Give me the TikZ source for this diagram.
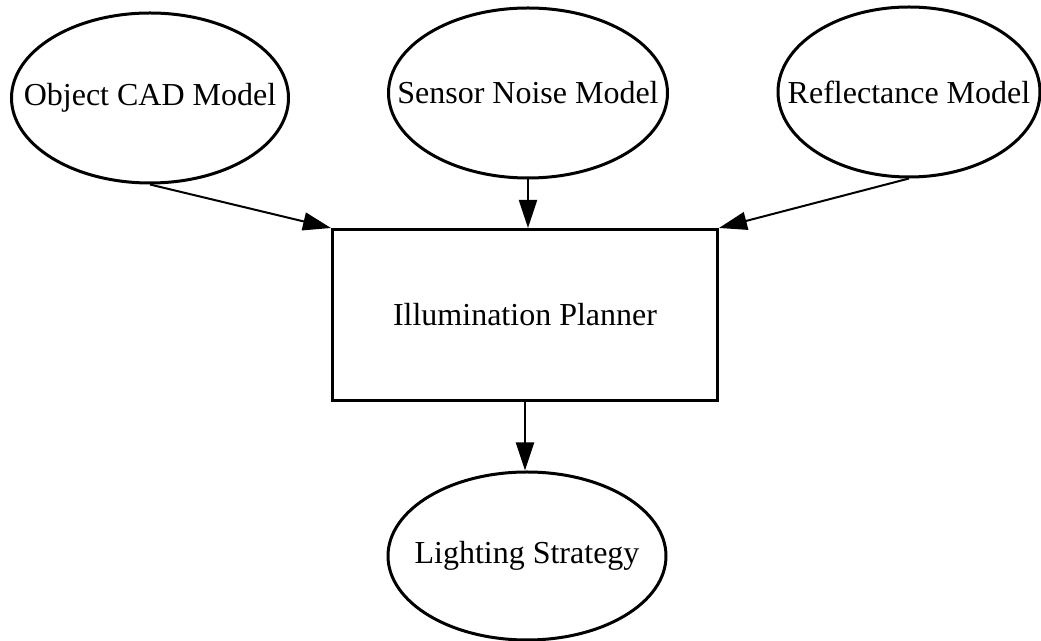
\documentclass[tikz,border=0pt]{standalone}
\usepackage{fontspec}
\setmainfont{Liberation Serif}
\usepackage{tikz}
\usetikzlibrary{shapes.geometric}
\usetikzlibrary{arrows.meta}
\newcommand{\ovaltext}[1]{\makebox[0pt]{#1}}

\begin{document}
\begin{tikzpicture}[x=0.5pt,y=-0.5pt,
    model/.style={draw,ellipse,line width=1.5pt,inner sep=0pt,
      font=\fontsize{16}{19}\selectfont},
    planbox/.style={draw,rectangle,line width=1.5pt,inner sep=0pt,
      minimum width=192.5pt,minimum height=85.5pt,
      font=\fontsize{16}{19}\selectfont},
    feed/.style={line width=1pt,-{Triangle[length=14pt,width=9pt]}}]
    \useasboundingbox (0,0) rectangle (1041,641);
    %
    \node[model,minimum width=138.5pt,minimum height=85pt] (cad) at (150,98)
      {\ovaltext{Object CAD Model}};
    \node[model,minimum width=139.5pt,minimum height=85pt] (noise) at (528,93)
      {\ovaltext{Sensor Noise Model}};
    \node[model,minimum width=131pt,minimum height=85pt] (refl) at (909,92)
      {\ovaltext{Reflectance Model}};
    \node[planbox] (plan) at (525,315) {Illumination Planner};
    \node[model,minimum width=139pt,minimum height=84pt] (strategy) at (527,556)
      {\ovaltext{Lighting Strategy}};
    %
    \draw[feed] (cad.south) -- (plan.north west);
    \draw[feed] (noise.south) -- (noise.south |- plan.north);
    \draw[feed] (refl.south) -- (plan.north east);
    \draw[feed] (plan.south) -- (plan.south |- strategy.north);
  \end{tikzpicture}
\end{document}
